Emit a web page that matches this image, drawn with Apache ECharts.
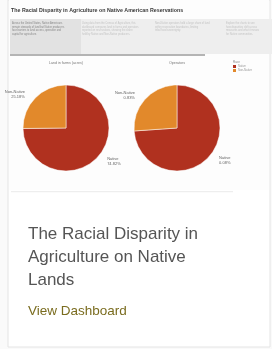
<!DOCTYPE html>
<html><head><meta charset="utf-8">
<script src="https://cdn.jsdelivr.net/npm/echarts@6/dist/echarts.min.js"></script>
<style>html,body{margin:0;padding:0;background:#fafafa;}#c{width:272px;height:349px;}</style>
</head><body><div id="c"></div>
<script>
const categories = ['Native', 'Non-Native'];
const landValues = [74.82, 25.18];
const landLabels = ['74.82%', '25.18%'];
const operatorValues = [73.9, 26.1];
const operatorLabels = ['0.08%', '0.83%'];
const pieTitles = ['Land in farms (acres)', 'Operators'];
const colors = ['#b0311f', '#e2892b'];

const chart = echarts.init(document.getElementById('c'));
function pieSeries(values, labels, cx) {
  return {
    type: 'pie', center: [cx, 128], radius: 43, startAngle: 90, clockwise: true,
    silent: true, animation: false,
    itemStyle: { borderColor: '#fff', borderWidth: 0.5 },
    label: {
      show: true, position: 'outside', fontSize: 4, color: '#666', lineHeight: 5,
      fontFamily: 'Arial, Liberation Sans', overflow: 'none', width: 40,
      formatter: p => p.name + '\n' + labels[p.dataIndex]
    },
    labelLine: { show: false, length: 5, length2: 2 },
    data: categories.map((c, i) => ({ name: c, value: values[i], itemStyle: { color: colors[i] } }))
  };
}
const F = 'Liberation Sans, Arial, sans-serif';
const bannerText = [
  'Across the United States, Native Americans\nremain stewards of land but Native producers\nface barriers to land access, operation and\ncapital for agriculture.',
  'Using data from the Census of Agriculture, this\ndashboard compares land in farms and operators\nreported on reservations, showing the share\nheld by Native and Non-Native producers.',
  'Non-Native operators hold a large share of land\nwithin reservation boundaries, limiting\ntribal food sovereignty.',
  'Explore the charts to see\nhow disparities shift across\nmeasures and what it means\nfor Native communities.'
];
const bannerX = [12, 82, 155, 226];
chart.setOption({
  animation: false,
  legend: { show: false },
  graphic: [
    { type: 'rect', shape: { x: 8, y: 0, width: 262, height: 347 }, style: { fill: '#fff', stroke: '#e4e4e4', lineWidth: 1 }, silent: true },
    { type: 'rect', shape: { x: 9, y: 0, width: 260, height: 190 }, style: { fill: '#fdfdfd' }, silent: true },
    { type: 'text', x: 11, y: 8, style: { text: 'The Racial Disparity in Agriculture on Native American Reservations', font: 'bold 5.3px ' + F, fill: '#3a3a3a' } },
    { type: 'rect', shape: { x: 10, y: 19, width: 262, height: 35 }, style: { fill: '#eeeeee' }, silent: true },
    { type: 'rect', shape: { x: 10, y: 19, width: 71, height: 35 }, style: { fill: '#e2e2e2' }, silent: true },
    ...bannerText.map((t, i) => ({ type: 'text', x: bannerX[i], y: 22, style: { text: t, font: '2.6px ' + F, fill: i === 0 ? '#888' : '#c4c4c4', lineHeight: 3.4 } })),
    { type: 'rect', shape: { x: 10, y: 54, width: 195, height: 2 }, style: { fill: '#b4b4b4' }, silent: true },
    { type: 'text', x: 66, y: 61, style: { text: pieTitles[0], font: '3.6px ' + F, fill: '#777', align: 'center' } },
    { type: 'text', x: 177, y: 61, style: { text: pieTitles[1], font: '3.6px ' + F, fill: '#777', align: 'center' } },
    { type: 'text', x: 233, y: 61, style: { text: 'Race', font: '3px ' + F, fill: '#888' } },
    { type: 'rect', shape: { x: 233, y: 65, width: 3, height: 3 }, style: { fill: colors[0] } },
    { type: 'text', x: 238, y: 65, style: { text: categories[0], font: '2.8px ' + F, fill: '#999' } },
    { type: 'rect', shape: { x: 233, y: 69, width: 3, height: 3 }, style: { fill: colors[1] } },
    { type: 'text', x: 238, y: 69, style: { text: categories[1], font: '2.8px ' + F, fill: '#999' } },
    { type: 'rect', shape: { x: 11, y: 191, width: 222, height: 1.2 }, style: { fill: '#eeeeee' }, silent: true },
    { type: 'text', x: 28, y: 223, style: { text: 'The Racial Disparity in\nAgriculture on Native\nLands', font: '17px ' + F, fill: '#555555', lineHeight: 23 } },
    { type: 'text', x: 28, y: 304, style: { text: 'View Dashboard', font: '13.5px ' + F, fill: '#7a6c1f' } }
  ],
  series: [pieSeries(landValues, landLabels, 66), pieSeries(operatorValues, operatorLabels, 177)]
});
</script></body></html>
